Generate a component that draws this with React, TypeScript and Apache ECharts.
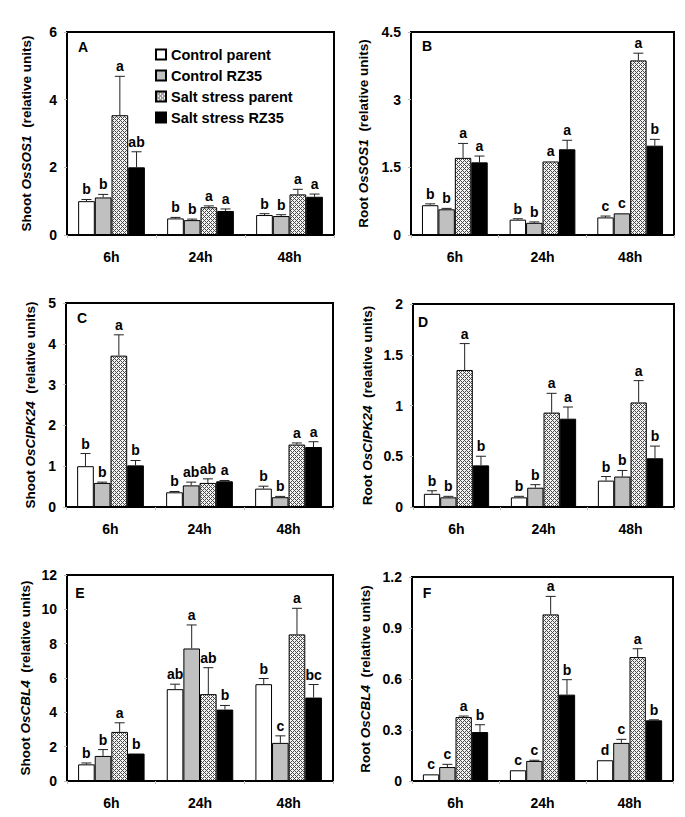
import React, { useEffect, useRef } from 'react';
import * as echarts from 'echarts';

const timePoints = ['6h', '24h', '48h'];
const seriesNames = ['Control parent', 'Control RZ35', 'Salt stress parent', 'Salt stress RZ35'];

// Panel A: Shoot OsSOS1 (rows: series, cols: time points)
const shootSOS1Mean = [[1.0, 0.49, 0.59], [1.11, 0.44, 0.56], [3.54, 0.82, 1.2], [2.0, 0.71, 1.13]];
const shootSOS1Err = [[0.05, 0.03, 0.04], [0.09, 0.03, 0.04], [1.15, 0.04, 0.15], [0.46, 0.06, 0.08]];
const shootSOS1Sig = [['b', 'b', 'b'], ['b', 'b', 'b'], ['a', 'a', 'a'], ['ab', 'a', 'a']];

// Panel B: Root OsSOS1
const rootSOS1Mean = [[0.66, 0.34, 0.39], [0.57, 0.27, 0.48], [1.71, 1.63, 3.87], [1.61, 1.9, 1.98]];
const rootSOS1Err = [[0.03, 0.02, 0.03], [0.02, 0.02, 0.0], [0.32, 0.0, 0.16], [0.14, 0.2, 0.14]];
const rootSOS1Sig = [['b', 'b', 'c'], ['b', 'b', 'c'], ['a', 'a', 'a'], ['a', 'a', 'b']];

// Panel C: Shoot OsCIPK24
const shootCIPK24Mean = [[1.0, 0.36, 0.45], [0.59, 0.53, 0.24], [3.71, 0.59, 1.53], [1.02, 0.63, 1.47]];
const shootCIPK24Err = [[0.31, 0.02, 0.06], [0.02, 0.08, 0.02], [0.51, 0.1, 0.04], [0.12, 0.02, 0.13]];
const shootCIPK24Sig = [['b', 'b', 'b'], ['b', 'ab', 'b'], ['a', 'ab', 'a'], ['b', 'a', 'a']];

// Panel D: Root OsCIPK24
const rootCIPK24Mean = [[0.13, 0.095, 0.26], [0.095, 0.19, 0.3], [1.35, 0.93, 1.03], [0.41, 0.87, 0.48]];
const rootCIPK24Err = [[0.03, 0.01, 0.04], [0.01, 0.03, 0.06], [0.26, 0.19, 0.215], [0.09, 0.115, 0.12]];
const rootCIPK24Sig = [['b', 'b', 'b'], ['b', 'b', 'b'], ['a', 'a', 'a'], ['b', 'a', 'b']];

// Panel E: Shoot OsCBL4
const shootCBL4Mean = [[0.97, 5.35, 5.64], [1.46, 7.72, 2.22], [2.86, 5.06, 8.54], [1.6, 4.16, 4.86]];
const shootCBL4Err = [[0.08, 0.29, 0.33], [0.37, 1.37, 0.41], [0.53, 1.54, 1.52], [0.0, 0.24, 0.76]];
const shootCBL4Sig = [['b', 'ab', 'b'], ['b', 'a', 'c'], ['a', 'ab', 'a'], ['b', 'b', 'bc']];

// Panel F: Root OsCBL4
const rootCBL4Mean = [[0.039, 0.063, 0.122], [0.082, 0.118, 0.224], [0.376, 0.98, 0.729], [0.288, 0.508, 0.357]];
const rootCBL4Err = [[0.0, 0.0, 0.0], [0.016, 0.004, 0.021], [0.006, 0.106, 0.049], [0.043, 0.088, 0.003]];
const rootCBL4Sig = [['c', 'c', 'd'], ['c', 'c', 'c'], ['a', 'a', 'a'], ['b', 'b', 'b']];

const yMax = [6, 4.5, 5, 2, 12, 1.2];
const yStep = [2, 1.5, 1, 0.5, 2, 0.3];
const panelLetters = ['A', 'B', 'C', 'D', 'E', 'F'];
const tissues = ['Shoot', 'Root', 'Shoot', 'Root', 'Shoot', 'Root'];
const genes = ['OsSOS1', 'OsSOS1', 'OsCIPK24', 'OsCIPK24', 'OsCBL4', 'OsCBL4'];

const FONT = '"Liberation Sans", Arial, sans-serif';

function makeHatch(): HTMLCanvasElement {
  const c = document.createElement('canvas');
  c.width = 4;
  c.height = 4;
  const ctx = c.getContext('2d')!;
  ctx.fillStyle = '#f4f4f4';
  ctx.fillRect(0, 0, 4, 4);
  ctx.fillStyle = '#4a4a4a';
  for (let x = 0; x < 4; x++) {
    for (let y = 0; y < 4; y++) {
      if ((x + y) % 4 === 0 || (x - y + 4) % 4 === 0) ctx.fillRect(x, y, 1, 1);
    }
  }
  return c;
}

export default function App() {
  const ref = useRef<HTMLDivElement>(null);
  useEffect(() => {
    document.body.style.margin = '0';
    if (!ref.current) return;
    const chart = echarts.init(ref.current, undefined, { renderer: 'svg' });
    const hatch = makeHatch();
    const fills: any[] = [
      '#ffffff',
      '#c0c0c0',
      { image: hatch, repeat: 'repeat', imageWidth: 4, imageHeight: 4 },
      '#000000',
    ];
    const means = [shootSOS1Mean, rootSOS1Mean, shootCIPK24Mean, rootCIPK24Mean, shootCBL4Mean, rootCBL4Mean];
    const errs = [shootSOS1Err, rootSOS1Err, shootCIPK24Err, rootCIPK24Err, shootCBL4Err, rootCBL4Err];
    const sigs = [shootSOS1Sig, rootSOS1Sig, shootCIPK24Sig, rootCIPK24Sig, shootCBL4Sig, rootCBL4Sig];

    const grids = [
      { left: 67, top: 32, width: 267, height: 203 },
      { left: 411, top: 32, width: 263, height: 203 },
      { left: 66, top: 303, width: 267, height: 204 },
      { left: 413, top: 304, width: 261, height: 203 },
      { left: 67, top: 575, width: 266, height: 206 },
      { left: 412, top: 577, width: 261, height: 204 },
    ];
    const nameGaps = [34, 41, 29, 39, 35, 40];
    const letterPos = [
      [83, 47], [427, 46], [82, 318], [423, 322], [80, 593], [427, 593],
    ];

    const xAxis: any[] = [];
    const yAxis: any[] = [];
    const series: any[] = [];
    const graphic: any[] = [];

    grids.forEach((g, p) => {
      xAxis.push({
        type: 'category',
        gridIndex: p,
        data: timePoints,
        axisLine: { lineStyle: { color: '#000', width: 2 } },
        axisTick: { show: true, length: 3, lineStyle: { color: '#bbb' } },
        axisLabel: { margin: 15, color: '#000', fontWeight: 'bold', fontSize: 14, fontFamily: FONT },
      });
      yAxis.push({
        type: 'value',
        gridIndex: p,
        min: 0,
        max: yMax[p],
        interval: yStep[p],
        splitLine: { show: false },
        axisLine: { show: true, lineStyle: { color: '#000', width: 2 } },
        axisTick: { show: true, length: 3, lineStyle: { color: '#bbb' } },
        axisLabel: {
          margin: 10,
          color: '#000',
          fontWeight: 'bold',
          fontSize: 14,
          fontFamily: FONT,
          formatter: (v: number) => String(Math.round(v * 100) / 100),
        },
        name: tissues[p] + ' {i|' + genes[p] + '}  (relative units)',
        nameLocation: 'middle',
        nameGap: nameGaps[p],
        nameTextStyle: {
          color: '#000',
          fontWeight: 'bold',
          fontSize: 13.5,
          fontFamily: FONT,
          rich: {
            i: { fontStyle: 'italic', fontWeight: 'bold', fontSize: 13.5, fontFamily: FONT, color: '#000' },
          },
        },
      });
      for (let s = 0; s < 4; s++) {
        series.push({
          type: 'bar',
          name: seriesNames[s],
          xAxisIndex: p,
          yAxisIndex: p,
          barGap: '0%',
          barCategoryGap: '25%',
          itemStyle: { color: fills[s], borderColor: '#000', borderWidth: 1 },
          data: means[p][s],
        });
      }
      for (let s = 0; s < 4; s++) {
        const sIdx = s;
        const letters = sigs[p][s];
        series.push({
          type: 'custom',
          name: 'err' + p + '_' + s,
          xAxisIndex: p,
          yAxisIndex: p,
          z: 5,
          encode: { x: 0, y: [1, 2] },
          data: means[p][s].map((m, k) => [k, m, m + errs[p][s][k]]),
          renderItem: (params: any, api: any) => {
            const cat = api.value(0);
            const mean = api.value(1);
            const top = api.value(2);
            const base = api.coord([cat, mean]);
            const tp = api.coord([cat, top]);
            const band = api.size([1, 0])[0];
            const bw = (band * 0.75) / 4;
            const x = base[0] + (sIdx - 1.5) * bw;
            const children: any[] = [];
            if (top > mean + 1e-9 && base[1] - tp[1] > 0.5) {
              children.push({
                type: 'line',
                shape: { x1: x, y1: base[1], x2: x, y2: tp[1] },
                style: { stroke: '#222', lineWidth: 1 },
              });
              children.push({
                type: 'line',
                shape: { x1: x - 5, y1: tp[1], x2: x + 5, y2: tp[1] },
                style: { stroke: '#222', lineWidth: 1 },
              });
            }
            children.push({
              type: 'text',
              x: x,
              y: Math.min(tp[1], base[1]) - 3,
              style: {
                text: letters[params.dataIndex],
                align: 'center',
                verticalAlign: 'bottom',
                fontSize: 14,
                fontWeight: 'bold',
                fontFamily: FONT,
                fill: '#000',
              },
            });
            return { type: 'group', children };
          },
        });
      }
      graphic.push({
        type: 'text',
        x: letterPos[p][0],
        y: letterPos[p][1],
        style: {
          text: panelLetters[p],
          align: 'center',
          verticalAlign: 'middle',
          fontSize: 14,
          fontWeight: 'bold',
          fontFamily: FONT,
          fill: '#000',
        },
      });
    });

    chart.setOption({
      animation: false,
      backgroundColor: '#fff',
      grid: grids.map((g) => ({ ...g, show: true, borderColor: '#000', borderWidth: 2, backgroundColor: 'transparent' })),
      xAxis,
      yAxis,
      series,
      graphic,
      legend: {
        data: seriesNames,
        orient: 'vertical',
        left: 150,
        top: 42,
        itemWidth: 10,
        itemHeight: 10,
        itemGap: 6,
        icon: 'rect',
        textStyle: { color: '#000', fontWeight: 'bold', fontSize: 14.5, fontFamily: FONT },
      },
    });
    return () => chart.dispose();
  }, []);
  return <div ref={ref} style={{ width: 685, height: 817 }} />;
}
